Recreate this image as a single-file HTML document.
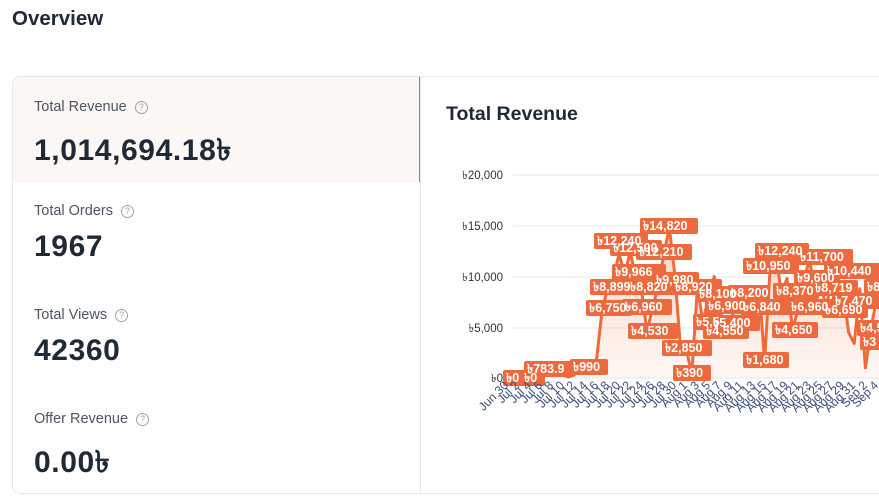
<!DOCTYPE html>
<html><head><meta charset="utf-8"><style>
*{margin:0;padding:0;box-sizing:border-box}
body{width:879px;height:501px;overflow:hidden;background:#fff;font-family:"Liberation Sans","DejaVu Sans",sans-serif;color:#1f2937;position:relative}
.h{position:absolute;left:12px;top:7px;font-size:20.5px;font-weight:bold;color:#1f2937}
.card{position:absolute;left:12px;top:76px;width:880px;height:418px;border:1px solid #e5e7eb;border-radius:8px;overflow:hidden}
.act{position:absolute;left:0;top:0;width:408px;height:105px;background:#fcf7f4;border-right:2px solid #e0713f}
.div{position:absolute;left:407px;top:0;width:1px;height:420px;background:#e5e7eb}
.lab{position:absolute;left:21px;font-size:14.5px;color:#4b5563}
.q{display:inline-block;width:13px;height:13px;border:1.3px solid #9ca3af;border-radius:50%;font-size:9px;line-height:11px;text-align:center;color:#9ca3af;margin-left:8px;vertical-align:1px}
.val{position:absolute;left:21px;font-size:30px;font-weight:bold;color:#1f2937;letter-spacing:0.6px}
.ct{position:absolute;left:446px;top:103px;font-size:19.5px;font-weight:bold;color:#1f2937}
svg{position:absolute;left:0;top:0}
</style></head><body>
<div class="h">Overview</div>
<div class="card">
<div class="act"></div><div class="div"></div>
<div class="lab" style="top:22px">Total Revenue<span class="q">?</span></div>
<div class="val" style="top:49px">1,014,694.18৳</div>
<div class="lab" style="top:126px">Total Orders<span class="q">?</span></div>
<div class="val" style="top:153px">1967</div>
<div class="lab" style="top:230px">Total Views<span class="q">?</span></div>
<div class="val" style="top:257px">42360</div>
<div class="lab" style="top:334px">Offer Revenue<span class="q">?</span></div>
<div class="val" style="top:361px">0.00৳</div>
</div>
<div class="ct">Total Revenue</div>
<svg width="879" height="501" font-family="Liberation Sans, DejaVu Sans, sans-serif">
<defs><linearGradient id="g" x1="0" y1="0" x2="0" y2="1"><stop offset="0" stop-color="#f06a35" stop-opacity="0.3"/><stop offset="1" stop-color="#f06a35" stop-opacity="0.05"/></linearGradient></defs>
<g stroke="#e5e7eb" stroke-width="1">
<line x1="513" y1="175" x2="879" y2="175"/><line x1="513" y1="226" x2="879" y2="226"/><line x1="513" y1="277" x2="879" y2="277"/><line x1="513" y1="328" x2="879" y2="328"/><line x1="513" y1="378" x2="879" y2="378"/>
</g>
<g font-size="11.5" fill="#333" text-anchor="end">
<text x="503" y="179">৳20,000</text><text x="503" y="230">৳15,000</text><text x="503" y="281">৳10,000</text><text x="503" y="332">৳5,000</text><text x="503" y="382">৳0</text>
</g>
<path fill="url(#g)" d="M507,378 L512.6,378 518.2,377 523.8,378 529.4,370 535,372 540.6,376 546.2,375 551.8,375 557.4,375 563,375 568.6,377 574.2,375 579.8,368 585.4,372 591,366 596.6,359 602.2,309.5 607.8,287.7 613.4,278.5 619,253.8 624.6,274.5 630.2,252.1 635.8,276.8 641.4,288.5 647,332 652.6,307.4 658.2,286.7 663.8,254.1 669.4,227.6 675,276.7 680.6,349.1 686.2,349.1 691.8,374 697.4,287.5 703,322.2 708.6,295.8 714.2,276.5 719.8,308 725.4,331.8 731,323.2 736.6,295.8 742.2,294.8 747.8,308.6 753.4,291.7 759,286.7 764.6,361 770.2,266.9 775.8,253.8 781.4,293 787,278.5 792.6,330.8 798.2,307.4 803.8,280.6 809.4,259.2 815,289.5 820.6,280.6 826.2,310.1 831.8,272 837.4,302.2 843,289.7 848.6,332.3 854.2,343.5 859.8,288.7 865.4,367.9 871,327.3 876.6,300 882.2,290 L882.2,378 Z"/>
<polyline fill="none" stroke="#f06a35" stroke-width="3" stroke-linejoin="round" points="507,378 512.6,378 518.2,377 523.8,378 529.4,370 535,372 540.6,376 546.2,375 551.8,375 557.4,375 563,375 568.6,377 574.2,375 579.8,368 585.4,372 591,366 596.6,359 602.2,309.5 607.8,287.7 613.4,278.5 619,253.8 624.6,274.5 630.2,252.1 635.8,276.8 641.4,288.5 647,332 652.6,307.4 658.2,286.7 663.8,254.1 669.4,227.6 675,276.7 680.6,349.1 686.2,349.1 691.8,374 697.4,287.5 703,322.2 708.6,295.8 714.2,276.5 719.8,308 725.4,331.8 731,323.2 736.6,295.8 742.2,294.8 747.8,308.6 753.4,291.7 759,286.7 764.6,361 770.2,266.9 775.8,253.8 781.4,293 787,278.5 792.6,330.8 798.2,307.4 803.8,280.6 809.4,259.2 815,289.5 820.6,280.6 826.2,310.1 831.8,272 837.4,302.2 843,289.7 848.6,332.3 854.2,343.5 859.8,288.7 865.4,367.9 871,327.3 876.6,300 882.2,290"/>
<g font-size="12.5" font-weight="bold" fill="#fff" stroke="none">
<g fill="#ec6a3d">
<rect x="503" y="370" width="24" height="16" rx="2"/><rect x="521" y="370" width="24" height="16" rx="2"/>
<rect x="524" y="361" width="50" height="16" rx="2"/><rect x="570" y="359" width="38" height="16" rx="2"/>
<rect x="586" y="300" width="46" height="16" rx="2"/><rect x="590" y="279" width="50" height="16" rx="2"/>
<rect x="594" y="233" width="54" height="16" rx="2"/><rect x="610" y="240" width="52" height="16" rx="2"/>
<rect x="612" y="264" width="54" height="16" rx="2"/><rect x="627" y="279" width="50" height="16" rx="2"/>
<rect x="622" y="299" width="50" height="16" rx="2"/><rect x="628" y="323" width="50" height="16" rx="2"/>
<rect x="640" y="218" width="58" height="16" rx="2"/><rect x="636" y="244" width="56" height="16" rx="2"/>
<rect x="653" y="272" width="46" height="16" rx="2"/><rect x="672" y="279" width="50" height="16" rx="2"/>
<rect x="662" y="340" width="50" height="16" rx="2"/><rect x="673" y="365" width="38" height="16" rx="2"/>
<rect x="696" y="286" width="42" height="16" rx="2"/><rect x="693" y="314" width="30" height="16" rx="2"/>
<rect x="705" y="298" width="42" height="16" rx="2"/><rect x="703" y="323" width="46" height="16" rx="2"/>
<rect x="710" y="315" width="50" height="16" rx="2"/><rect x="728" y="285" width="42" height="16" rx="2"/>
<rect x="740" y="299" width="50" height="16" rx="2"/><rect x="743" y="352" width="46" height="16" rx="2"/>
<rect x="743" y="258" width="56" height="16" rx="2"/><rect x="755" y="243" width="54" height="16" rx="2"/>
<rect x="773" y="283" width="46" height="16" rx="2"/><rect x="772" y="322" width="46" height="16" rx="2"/>
<rect x="788" y="299" width="46" height="16" rx="2"/><rect x="794" y="270" width="46" height="16" rx="2"/>
<rect x="797" y="249" width="56" height="16" rx="2"/><rect x="812" y="280" width="46" height="16" rx="2"/>
<rect x="822" y="302" width="46" height="16" rx="2"/><rect x="824" y="263" width="56" height="16" rx="2"/>
<rect x="832" y="293" width="48" height="16" rx="2"/><rect x="857" y="320" width="30" height="16" rx="2"/>
<rect x="860" y="334" width="30" height="16" rx="2"/><rect x="864" y="279" width="30" height="16" rx="2"/>
</g>
<text x="506" y="382">৳0</text><text x="524" y="382">৳0</text>
<text x="527" y="373">৳783.9</text><text x="573" y="371">৳990</text>
<text x="589" y="312">৳6,750</text><text x="593" y="291">৳8,899</text>
<text x="597" y="245">৳12,240</text><text x="613" y="252">৳12,500</text>
<text x="615" y="276">৳9,966</text><text x="630" y="291">৳8,820</text>
<text x="625" y="311">৳6,960</text><text x="631" y="335">৳4,530</text>
<text x="643" y="230">৳14,820</text><text x="639" y="256">৳12,210</text>
<text x="656" y="284">৳9,980</text><text x="675" y="291">৳8,920</text>
<text x="665" y="352">৳2,850</text><text x="676" y="377">৳390</text>
<text x="699" y="298">৳8,100</text><text x="696" y="326">৳5,5</text>
<text x="708" y="310">৳6,900</text><text x="706" y="335">৳4,550</text>
<text x="713" y="327">৳5,400</text><text x="731" y="297">৳8,200</text>
<text x="743" y="311">৳6,840</text><text x="746" y="364">৳1,680</text>
<text x="746" y="270">৳10,950</text><text x="758" y="255">৳12,240</text>
<text x="776" y="295">৳8,370</text><text x="775" y="334">৳4,650</text>
<text x="791" y="311">৳6,960</text><text x="797" y="282">৳9,600</text>
<text x="800" y="261">৳11,700</text><text x="815" y="292">৳8,719</text>
<text x="825" y="314">৳6,690</text><text x="827" y="275">৳10,440</text>
<text x="835" y="305">৳7,470</text><text x="860" y="332">৳4,5</text>
<text x="863" y="346">৳3</text><text x="867" y="291">৳8</text>
</g>
<g font-size="12" fill="#3d4f7c" text-anchor="end">
<text transform="translate(509,386) rotate(-45)">Jun 30</text>
<text transform="translate(520,386) rotate(-45)">Jul 2</text>
<text transform="translate(532,386) rotate(-45)">Jul 4</text>
<text transform="translate(543,386) rotate(-45)">Jul 6</text>
<text transform="translate(554,386) rotate(-45)">Jul 8</text>
<text transform="translate(565,386) rotate(-45)">Jul 10</text>
<text transform="translate(576,386) rotate(-45)">Jul 12</text>
<text transform="translate(588,386) rotate(-45)">Jul 14</text>
<text transform="translate(599,386) rotate(-45)">Jul 16</text>
<text transform="translate(610,386) rotate(-45)">Jul 18</text>
<text transform="translate(621,386) rotate(-45)">Jul 20</text>
<text transform="translate(632,386) rotate(-45)">Jul 22</text>
<text transform="translate(644,386) rotate(-45)">Jul 24</text>
<text transform="translate(655,386) rotate(-45)">Jul 26</text>
<text transform="translate(666,386) rotate(-45)">Jul 28</text>
<text transform="translate(677,386) rotate(-45)">Jul 30</text>
<text transform="translate(688,386) rotate(-45)">Aug 1</text>
<text transform="translate(700,386) rotate(-45)">Aug 3</text>
<text transform="translate(711,386) rotate(-45)">Aug 5</text>
<text transform="translate(722,386) rotate(-45)">Aug 7</text>
<text transform="translate(733,386) rotate(-45)">Aug 9</text>
<text transform="translate(744,386) rotate(-45)">Aug 11</text>
<text transform="translate(756,386) rotate(-45)">Aug 13</text>
<text transform="translate(767,386) rotate(-45)">Aug 15</text>
<text transform="translate(778,386) rotate(-45)">Aug 17</text>
<text transform="translate(789,386) rotate(-45)">Aug 19</text>
<text transform="translate(800,386) rotate(-45)">Aug 21</text>
<text transform="translate(812,386) rotate(-45)">Aug 23</text>
<text transform="translate(823,386) rotate(-45)">Aug 25</text>
<text transform="translate(834,386) rotate(-45)">Aug 27</text>
<text transform="translate(845,386) rotate(-45)">Aug 29</text>
<text transform="translate(856,386) rotate(-45)">Aug 31</text>
<text transform="translate(868,386) rotate(-45)">Sep 2</text>
<text transform="translate(879,386) rotate(-45)">Sep 4</text>
</g>
</svg>
</body></html>
